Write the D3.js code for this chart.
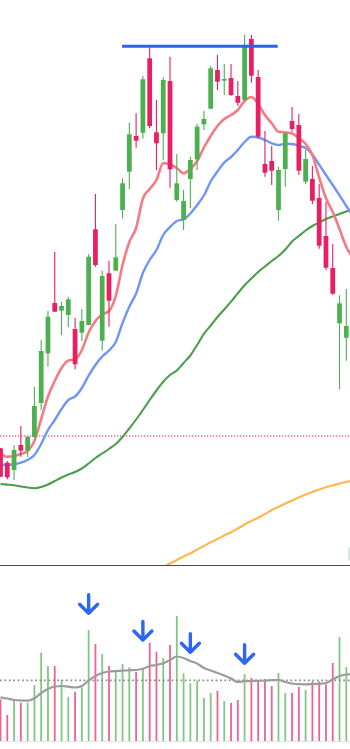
<!DOCTYPE html>
<html>
<head>
<meta charset="utf-8">
<script src="https://cdn.jsdelivr.net/npm/d3@7"></script>
<style>
  html, body { margin: 0; padding: 0; background: #ffffff; }
  svg { display: block; }
</style>
</head>
<body>
<svg id="chart" width="350" height="749"></svg>
<script>
// ---------- DATA ----------
const openP  = [11.67,10.23,9.50,12.00,11.43,12.80,16.20,21.17,26.20,25.43,25.00,23.60,23.23,24.00,33.57,22.43,29.17,29.43,35.50,39.33,42.90,43.23,50.67,43.27,43.17,48.40,36.50,34.50,38.60,40.57,44.07,45.63,49.50,48.43,48.70,46.90,46.50,52.60,48.80,40.10,40.40,35.50,39.60,44.40,44.00,38.33,38.60,36.70,32.90,29.70,24.17,22.73];
const highP  = [11.70,10.39,12.00,13.90,12.90,17.80,22.50,25.40,31.30,26.33,26.83,24.70,25.60,31.10,37.10,29.43,30.43,34.10,38.67,44.23,45.17,48.90,51.77,46.50,48.77,50.83,41.10,37.50,40.83,44.10,45.40,49.90,51.00,50.10,50.10,48.40,53.00,53.00,49.50,43.40,41.90,39.83,43.30,45.80,45.10,41.50,39.90,38.10,36.33,32.10,26.97,27.60];
const lowP   = [8.80,8.57,8.50,10.83,10.80,12.70,15.50,19.83,25.30,23.00,23.77,19.57,22.40,23.95,29.83,21.43,23.83,29.40,34.67,37.60,41.73,42.63,43.67,39.50,40.50,37.73,36.33,33.50,35.67,39.50,43.50,45.60,47.50,47.00,46.90,45.90,46.45,48.23,42.67,38.83,38.00,34.43,37.83,43.33,39.00,38.10,36.07,31.63,29.50,27.00,17.57,20.43];
const closeP = [8.83,8.77,11.50,11.43,12.83,15.90,21.40,24.83,25.33,25.90,26.57,20.07,24.40,30.83,30.00,28.90,26.43,30.77,38.17,43.07,42.43,48.57,43.90,42.17,48.50,39.57,38.17,36.40,40.50,43.83,44.60,49.67,48.33,48.60,47.00,46.23,51.83,48.93,42.83,39.23,39.43,39.50,43.17,43.60,39.43,40.60,36.43,31.93,29.73,27.13,26.17,23.90];

// moving averages (one value per candle, plus one beyond the right edge)
const maFast = [11.15,10.83,10.90,11.10,11.40,12.40,14.60,16.85,18.40,19.70,20.45,20.55,21.50,23.25,24.40,25.05,25.40,26.90,30.00,32.30,33.70,36.65,37.60,38.50,40.17,40.07,39.70,39.17,39.60,40.40,41.75,42.90,43.90,44.60,45.00,45.50,46.40,46.80,46.10,45.00,44.17,43.33,43.25,43.15,42.70,42.10,41.00,38.75,36.70,35.30,33.60,31.80,30.70];
const maMid  = [10.00,10.02,10.07,10.23,10.50,11.00,12.10,13.50,14.50,15.60,16.50,16.85,17.70,18.93,20.00,20.85,21.45,22.30,24.20,25.83,27.15,29.20,30.50,31.50,33.00,33.80,34.40,34.57,35.15,36.00,36.95,38.35,39.35,40.25,40.80,41.50,42.30,42.83,42.75,42.50,42.17,42.00,42.12,42.10,41.90,41.70,41.05,40.03,39.00,38.00,36.97,35.90,34.90];
const maSlow = [8.10,8.04,7.97,7.85,7.75,7.68,7.80,8.05,8.40,8.75,9.05,9.30,9.65,10.15,10.70,11.15,11.60,12.10,12.80,13.65,14.55,15.50,16.50,17.45,18.33,19.00,19.45,20.20,20.95,22.00,23.12,23.95,24.80,25.55,26.33,27.17,27.97,28.64,29.30,29.85,30.40,30.90,31.55,32.35,32.90,33.45,33.90,34.25,34.60,34.85,35.10,35.35,35.60];
const maLong = [null,null,null,null,null,null,null,null,null,null,null,null,null,null,null,null,null,null,null,null,null,null,null,-0.55,-0.20,0.15,0.50,0.85,1.17,1.55,1.90,2.27,2.60,2.95,3.27,3.65,4.05,4.40,4.73,5.10,5.50,5.80,6.15,6.45,6.75,7.05,7.30,7.55,7.77,7.95,8.15,8.30,8.45];

const volume = [41.7,26,40.3,38.3,38.3,56,88.3,75,75,61,44.3,49.3,53.7,111,97,87,75,69,77,73.7,69,72.7,98.3,89.3,83,96,125,67.7,57.7,60.3,43,48,50,40,38,41,67,63,60.3,62,55,68,48,48,54,51,59.7,59.7,56.7,78,104,74];
const volumeMA = [43.7,42.5,41,40.5,40.3,42.7,48,52,54.5,55,54.3,53.5,55,60.5,65,68,69.5,70,70.3,70.7,71,72.3,75,76,77.7,81,84.5,83,80,77.5,73,70.5,68,65.5,62.5,59,59.8,60,60.2,60.3,60.8,61,59,57.5,56.8,56.7,57,57.2,58,61.5,65,66.5,67];
const avgVolume = 60.7;

const supportPrice = 12.9;
const resistance = { price: 51.87, from: 18, to: 41 };
const arrowIdx = [13, 21, 28, 36];
const arrowVol = [127.7, 101, 88.7, 77.7];

// ---------- STYLE ----------
const W = 350, H = 749;
const mainTop = 0, mainBottom = 565;
const volTop = 581, volBottom = 741;
const upColor = "#4caf50", downColor = "#e91e63";
const upVol = "#81c784", downVol = "#f06292";

const svg = d3.select("#chart");
svg.append("rect").attr("width", W).attr("height", H).attr("fill", "#fff");

const x = d3.scaleLinear().domain([0, 51]).range([0.5, 346.3]);
const step = x(1) - x(0);
const y = d3.scaleLinear().domain([0, 56.5]).range([mainBottom, mainTop]);
const yv = d3.scaleLinear().domain([0, 160]).range([volBottom, volTop]);

const defs = svg.append("defs");
defs.append("clipPath").attr("id", "mainClip")
  .append("rect").attr("x", 0).attr("y", 0).attr("width", W).attr("height", mainBottom);
defs.append("clipPath").attr("id", "volClip")
  .append("rect").attr("x", 0).attr("y", mainBottom + 1).attr("width", W).attr("height", volBottom - mainBottom);

const main = svg.append("g").attr("clip-path", "url(#mainClip)");

// support dotted line
main.append("line")
  .attr("x1", 0).attr("x2", W)
  .attr("y1", y(supportPrice)).attr("y2", y(supportPrice))
  .attr("stroke", downColor).attr("stroke-width", 1.2)
  .attr("stroke-dasharray", "1.3,1.7");

// MA lines
const lineGen = d3.line()
  .defined(d => d != null)
  .x((d, i) => x(i))
  .y(d => y(d))
  .curve(d3.curveMonotoneX);

const maSpecs = [
  { data: maLong, color: "#ffb74d", w: 2.2 },
  { data: maSlow, color: "#4a9f4a", w: 2.1 },
  { data: maMid,  color: "#6f95f7", w: 2.4 },
  { data: maFast, color: "#f47b82", w: 2.6 }
];
maSpecs.forEach(s => {
  main.append("path")
    .attr("d", lineGen(s.data))
    .attr("fill", "none")
    .attr("stroke", s.color)
    .attr("stroke-width", s.w)
    .attr("stroke-linejoin", "round");
});

// candles
const candles = d3.range(openP.length).map(i => ({
  i, o: openP[i], h: highP[i], l: lowP[i], c: closeP[i], up: closeP[i] >= openP[i]
}));
const cg = main.append("g");
cg.selectAll("line.wick").data(candles).join("line")
  .attr("class", "wick")
  .attr("x1", d => x(d.i)).attr("x2", d => x(d.i))
  .attr("y1", d => y(d.h)).attr("y2", d => y(d.l))
  .attr("stroke", d => d.up ? upColor : downColor)
  .attr("stroke-width", 1.1);
const bw = step * 0.7;
cg.selectAll("rect.body").data(candles).join("rect")
  .attr("class", "body")
  .attr("x", d => x(d.i) - bw / 2)
  .attr("width", bw)
  .attr("y", d => y(Math.max(d.o, d.c)))
  .attr("height", d => Math.max(1.2, Math.abs(y(d.o) - y(d.c))))
  .attr("fill", d => d.up ? upColor : downColor);

// resistance line
main.append("line")
  .attr("x1", x(resistance.from) - 0.5).attr("x2", x(resistance.to) - 0.8)
  .attr("y1", y(resistance.price)).attr("y2", y(resistance.price))
  .attr("stroke", "#2b62f3").attr("stroke-width", 3);

// small label edge at right
svg.append("rect")
  .attr("x", 349).attr("y", 548).attr("width", 10).attr("height", 12)
  .attr("fill", "#f2fbfa").attr("stroke", "#a8ddd7").attr("stroke-width", 1);

// panel separator
svg.append("line")
  .attr("x1", 0).attr("x2", W)
  .attr("y1", mainBottom + 0.5).attr("y2", mainBottom + 0.5)
  .attr("stroke", "#4a4a4f").attr("stroke-width", 1.2);

// ---------- VOLUME ----------
const vg = svg.append("g").attr("clip-path", "url(#volClip)");
vg.selectAll("rect.vol").data(candles).join("rect")
  .attr("class", "vol")
  .attr("x", d => x(d.i) - 0.9)
  .attr("width", 1.8)
  .attr("y", d => yv(volume[d.i]))
  .attr("height", d => yv(0) - yv(volume[d.i]))
  .attr("fill", d => d.up ? upVol : downVol);

vg.append("line")
  .attr("x1", 0).attr("x2", W)
  .attr("y1", yv(avgVolume)).attr("y2", yv(avgVolume))
  .attr("stroke", "#8f8f8f").attr("stroke-width", 1.8)
  .attr("stroke-dasharray", "1.8,2.6");

const vLine = d3.line().x((d, i) => x(i)).y(d => yv(d)).curve(d3.curveMonotoneX);
vg.append("path")
  .attr("d", vLine(volumeMA))
  .attr("fill", "none")
  .attr("stroke", "#9c9c9c")
  .attr("stroke-width", 2.2);

svg.append("line")
  .attr("x1", 0).attr("x2", W)
  .attr("y1", volBottom + 0.5).attr("y2", volBottom + 0.5)
  .attr("stroke", "#e3e3e3").attr("stroke-width", 1.2);

// arrows
const ag = svg.append("g");
arrowIdx.forEach((idx, k) => {
  const cx = x(idx), tip = yv(arrowVol[k]);
  ag.append("path")
    .attr("d", `M${cx},${tip - 18.5} L${cx},${tip} M${cx - 9},${tip - 9} L${cx},${tip} L${cx + 9},${tip - 9}`)
    .attr("fill", "none")
    .attr("stroke", "#2b66f5")
    .attr("stroke-width", 3.4)
    .attr("stroke-linecap", "round")
    .attr("stroke-linejoin", "round");
});
</script>
</body>
</html>
